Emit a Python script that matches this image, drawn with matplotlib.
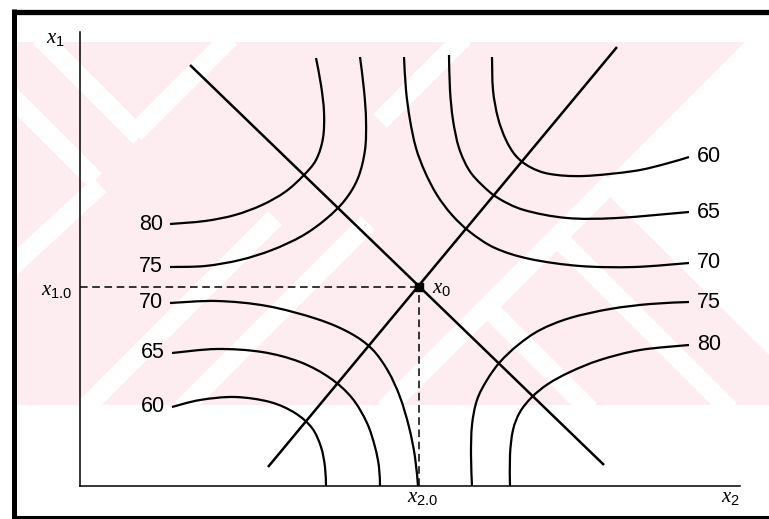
import numpy as np
import matplotlib
matplotlib.use("Agg")
import matplotlib.pyplot as plt
from matplotlib.path import Path
from matplotlib.patches import PathPatch, Rectangle, Polygon

plt.rcParams['font.family'] = ['Liberation Sans', 'DejaVu Sans']
plt.rcParams['mathtext.fontset'] = 'custom'
plt.rcParams['mathtext.it'] = 'Liberation Serif:italic'
plt.rcParams['mathtext.rm'] = 'Liberation Sans'

# contour levels and hand-traced contour lines (x2, x1) in axis units
left_levels = ['80', '75', '70', '65', '60']
right_levels = ['60', '65', '70', '75', '80']

c80_upper = [(23.6, 42.8), (24.1, 40.1), (24.4, 37.4), (24.3, 34.8), (23.6, 32.6), (22.3, 31.0),
             (20.5, 29.4), (18.2, 28.1), (15.5, 27.1), (12.5, 26.5), (9.0, 26.2)]
c75_upper = [(28.0, 42.9), (28.4, 39.6), (28.6, 36.6), (28.5, 33.6), (27.8, 30.8), (26.5, 28.6),
             (24.6, 26.7), (22.2, 25.0), (19.2, 23.6), (16.0, 22.6), (12.5, 22.0), (9.0, 21.9)]
c70_lower = [(9.0, 18.3), (13.7, 18.5), (18.7, 18.0), (23.7, 16.7), (27.0, 15.3), (29.2, 13.7),
             (30.8, 11.5), (32.0, 8.9), (32.9, 5.9), (33.5, 2.9), (33.8, 0.0)]
c65_lower = [(9.2, 13.3), (13.7, 13.7), (18.2, 13.4), (22.0, 12.4), (25.0, 10.8), (27.2, 8.8),
             (28.7, 6.3), (29.5, 3.9), (29.9, 1.9), (30.0, 0.0)]
c60_lower = [(9.2, 7.9), (12.0, 8.6), (15.5, 8.9), (19.0, 8.4), (21.5, 7.3), (23.2, 5.8),
             (24.1, 3.9), (24.5, 1.9), (24.6, 0.0)]

c70_upper = [(32.4, 42.9), (32.6, 39.6), (33.0, 36.6), (33.6, 33.8), (34.5, 31.4), (35.7, 29.1),
             (37.2, 27.1), (39.0, 25.4), (41.5, 23.8), (45.0, 22.7), (50.0, 22.0), (55.4, 21.9),
             (60.9, 22.3)]
c65_upper = [(36.9, 43.1), (37.0, 39.6), (37.3, 36.6), (37.9, 33.8), (38.9, 31.6), (40.2, 30.1),
             (41.8, 28.8), (44.4, 27.6), (48.7, 26.8), (53.7, 26.8), (60.9, 27.4)]
c60_upper = [(41.2, 42.9), (41.3, 39.6), (41.8, 36.8), (42.6, 34.6), (43.6, 33.0), (45.0, 31.9),
             (47.0, 31.2), (50.4, 31.0), (55.4, 31.5), (58.5, 32.2), (60.9, 32.9)]
c75_lower = [(39.2, 0.0), (39.1, 3.1), (39.2, 6.1), (39.7, 8.6), (40.7, 10.6), (42.0, 12.4),
             (43.8, 14.1), (46.0, 15.6), (49.0, 16.8), (53.0, 17.7), (57.0, 18.2), (60.9, 18.4)]
c80_lower = [(43.0, 0.0), (43.0, 3.1), (43.3, 5.6), (44.0, 7.4), (45.2, 8.9), (46.8, 10.2),
             (49.0, 11.4), (52.0, 12.6), (56.0, 13.6), (60.9, 14.1)]

left_curves = [c80_upper, c75_upper, c70_lower, c65_lower, c60_lower]
right_curves = [c60_upper, c65_upper, c70_upper, c75_lower, c80_lower]

# stationary point and the two principal axes through it
x0 = (33.9, 19.9)
axis_a = [(11.0, 42.1), (52.4, 2.1)]
axis_b = [(18.8, 1.9), (53.7, 43.9)]


def smooth_path(pts):
    # Catmull-Rom through the points, written as cubic Bezier segments
    p = np.asarray(pts, dtype=float)
    ext = np.vstack([p[0], p, p[-1]])
    verts = [p[0]]
    codes = [Path.MOVETO]
    for i in range(1, len(ext) - 2):
        c1 = ext[i] + (ext[i + 1] - ext[i - 1]) / 6
        c2 = ext[i + 1] - (ext[i + 2] - ext[i]) / 6
        verts += [c1, c2, ext[i + 1]]
        codes += [Path.CURVE4] * 3
    return Path(verts, codes)


fig = plt.figure(figsize=(7.69, 5.19), dpi=100)

# page background: scan frame and the faint pink print pattern
bg = fig.add_axes([0, 0, 1, 1], zorder=0)
bg.set_xlim(0, 769)
bg.set_ylim(519, 0)
bg.axis('off')
pink = '#fdecf0'
band = Rectangle((16, 42), 753, 363, facecolor=pink, edgecolor='none')
bg.add_patch(band)
stripes = [
    [(40, 37), (140, 137)], [(0, 85), (95, 180)], [(487, 307), (590, 410)],
    [(557, 237), (730, 410)], [(135, 133), (230, 38)], [(380, 121), (464, 37)],
    [(385, 409), (612, 182)], [(84, 409), (275, 218)], [(182, 409), (368, 223)],
    [(10, 268), (100, 185)],
]
for s in stripes:
    xs, ys = zip(*s)
    ln, = bg.plot(xs, ys, color='white', lw=14, solid_capstyle='butt')
    ln.set_clip_path(band)
bg.add_patch(Polygon([(600, 187), (745, 42), (769, 42), (769, 355)],
                     facecolor='white', edgecolor='none'))
bg.plot([14, 14], [9, 519], color='black', lw=3.6, solid_capstyle='butt')
bg.plot([12, 769], [12, 12], color='black', lw=3.8, solid_capstyle='butt')
bg.plot([12, 769], [517, 517], color='black', lw=2.2, solid_capstyle='butt')

ax = fig.add_axes([80 / 769, 33 / 519, 660 / 769, 454 / 519], zorder=1)
ax.patch.set_alpha(0)
ax.set_xlim(0, 66)
ax.set_ylim(0, 45.4)
for side in ['top', 'right']:
    ax.spines[side].set_visible(False)
for side in ['left', 'bottom']:
    ax.spines[side].set_linewidth(1.1)
ax.set_xticks([])
ax.set_yticks([])

for pts in left_curves + right_curves:
    ax.add_patch(PathPatch(smooth_path(pts), fill=False, lw=1.6, edgecolor='black',
                           capstyle='butt', joinstyle='round'))

for line in [axis_a, axis_b]:
    xs, ys = zip(*line)
    ax.plot(xs, ys, color='black', lw=1.8, solid_capstyle='butt')

dash = (0, (5, 3))
ax.plot([0, x0[0]], [x0[1], x0[1]], color='black', lw=1.1, linestyle=dash)
ax.plot([x0[0], x0[0]], [0, x0[1]], color='black', lw=1.1, linestyle=dash)
ax.plot(*x0, marker='s', ms=5.5, color='black')

for lab, pts in zip(left_levels, left_curves):
    end = pts[-1] if pts[-1][0] < pts[0][0] else pts[0]
    ax.text(end[0] - 0.7, end[1], lab, ha='right', va='center', fontsize=15.5)
for lab, pts in zip(right_levels, right_curves):
    end = pts[-1]
    ax.text(end[0] + 0.8, end[1], lab, ha='left', va='center', fontsize=15.5)

ax.text(x0[0] + 1.3, x0[1] - 0.1, r'$x_\mathrm{0}$', ha='left', va='center', fontsize=15)
ax.text(-0.8, x0[1] - 0.4, r'$x_\mathrm{1.0}$', ha='right', va='center', fontsize=15, clip_on=False)
ax.text(x0[0] + 0.4, -0.2, r'$x_\mathrm{2.0}$', ha='center', va='top', fontsize=15, clip_on=False)
ax.text(-1.5, 44.8, r'$x_\mathrm{1}$', ha='right', va='center', fontsize=15, clip_on=False)
ax.text(66.0, -0.2, r'$x_\mathrm{2}$', ha='right', va='top', fontsize=15, clip_on=False)

fig.savefig('out.png', dpi=100)
